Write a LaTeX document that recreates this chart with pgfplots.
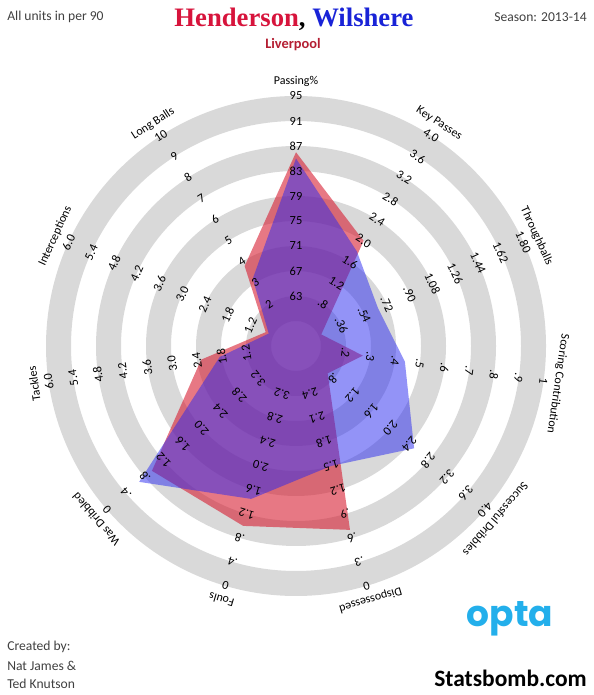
\documentclass[border=0pt]{standalone}
\usepackage{pgfplots}
\pgfplotsset{compat=1.18}
\usepackage{pgfplotstable}
\usepackage{fontspec}
\setmainfont{Carlito}
\newfontfamily\titlefont{Liberation Serif}
\newfontfamily\optafont{Poppins}
\definecolor{ringgray}{RGB}{217,217,217}
\definecolor{hencol}{RGB}{215,30,50}
\definecolor{wilcol}{RGB}{40,40,240}
\definecolor{titlered}{RGB}{215,20,60}
\definecolor{titleblue}{RGB}{25,35,215}
\definecolor{lfc}{RGB}{180,30,50}
\definecolor{txtgray}{RGB}{64,64,64}
\definecolor{optablue}{RGB}{35,175,235}

% ang = axis direction, c = value at centre, o = value at outer ring
\pgfplotstableread{
ang c o hen wil
90 55 95 86.0 85.0
57.2727 0 4.0 2.0 1.8
24.5455 0 1.8 0.20 0.65
-8.1818 0 1.0 0.27 0.44
-40.9091 0 4.0 0.67 2.5
-73.6364 3.0 0 0.70 1.5
-106.3636 4.0 0 1.0 1.45
-139.0909 4.0 0 0.95 0.68
-171.8182 0 6.0 2.3 1.85
-204.5455 0 6.0 0.8 0.72
-237.2727 0 10 3.8 3.2
90 55 95 86.0 85.0
}\radar

\begin{document}
\begin{tikzpicture}
\begin{axis}[
  x=18.75pt, y=18.75pt,
  xmin=-11.84, xmax=11.88, ymin=-13.96, ymax=13.84,
  hide axis, clip=false,
]
\fill[ringgray, even odd rule] (axis cs:0,0) circle[radius=187.5pt] circle[radius=168.75pt];
\fill[ringgray, even odd rule] (axis cs:0,0) circle[radius=150pt] circle[radius=131.25pt];
\fill[ringgray, even odd rule] (axis cs:0,0) circle[radius=112.5pt] circle[radius=93.75pt];
\fill[ringgray, even odd rule] (axis cs:0,0) circle[radius=75pt] circle[radius=56.25pt];
\fill[ringgray, even odd rule] (axis cs:0,0) circle[radius=37.5pt] circle[radius=18.75pt];
\addplot[draw=none, fill=hencol, fill opacity=0.6] table[
  x expr={(\thisrow{hen}-\thisrow{c})/(\thisrow{o}-\thisrow{c})*10*cos(\thisrow{ang})},
  y expr={(\thisrow{hen}-\thisrow{c})/(\thisrow{o}-\thisrow{c})*10*sin(\thisrow{ang})}]{\radar};
\addplot[draw=none, fill=wilcol, fill opacity=0.5] table[
  x expr={(\thisrow{wil}-\thisrow{c})/(\thisrow{o}-\thisrow{c})*10*cos(\thisrow{ang})},
  y expr={(\thisrow{wil}-\thisrow{c})/(\thisrow{o}-\thisrow{c})*10*sin(\thisrow{ang})}]{\radar};
\coordinate (O) at (axis cs:0,0);
\coordinate (SW) at (rel axis cs:0,0);
\coordinate (NE) at (rel axis cs:1,1);
\end{axis}

\begin{scope}[shift={(O)}, x=18.75pt, y=18.75pt]
\foreach \ang/\labs in {
  90/{63,67,71,75,79,83,87,91,95},
  57.2727/{.8,1.2,1.6,2.0,2.4,2.8,3.2,3.6,4.0},
  24.5455/{.36,.54,.72,.90,1.08,1.26,1.44,1.62,1.80},
  -8.1818/{.2,.3,.4,.5,.6,.7,.8,.9,1},
  -40.9091/{.8,1.2,1.6,2.0,2.4,2.8,3.2,3.6,4.0},
  -73.6364/{2.4,2.1,1.8,1.5,1.2,.9,.6,.3,0},
  -106.3636/{3.2,2.8,2.4,2.0,1.6,1.2,.8,.4,0},
  -139.0909/{3.2,2.8,2.4,2.0,1.6,1.2,.8,.4,0},
  -171.8182/{1.2,1.8,2.4,3.0,3.6,4.2,4.8,5.4,6.0},
  -204.5455/{1.2,1.8,2.4,3.0,3.6,4.2,4.8,5.4,6.0},
  -237.2727/{2,3,4,5,6,7,8,9,10}}{
  \foreach \lab [count=\k from 2] in \labs {
    \node[rotate=\ang-90, inner sep=0pt, font=\fontsize{9.3}{11}\selectfont] at (\ang:\k) {\lab};
  }
}
\foreach \ang/\nm in {
  90/Passing\%, 57.2727/Key Passes, 24.5455/Throughballs,
  -8.1818/Scoring Contribution, -40.9091/Successful Dribbles,
  -73.6364/Dispossessed, -106.3636/Fouls, -139.0909/Was Dribbled,
  -171.8182/Tackles, -204.5455/Interceptions, -237.2727/Long Balls}{
  \node[rotate=\ang-90, inner sep=0pt, font=\fontsize{9}{11}\selectfont] at (\ang:10.58) {\nm};
}
\end{scope}

\begin{scope}[shift={(O)}, x=0.75pt, y=-0.75pt]
\node[anchor=west, inner sep=0pt, text=txtgray, font=\fontsize{10.2}{12}\selectfont] at (-289,-329) {All units in per 90};
\node[anchor=east, inner sep=0pt, text=txtgray, font=\fontsize{10.2}{12}\selectfont] at (291,-329) {Season: 2013-14};
\node[inner sep=0pt, font=\titlefont\bfseries\fontsize{20}{24}\selectfont] at (-2,-327) {\textcolor{titlered}{Henderson}, \textcolor{titleblue}{Wilshere}};
\node[inner sep=0pt, text=lfc, font=\bfseries\fontsize{10.8}{12}\selectfont] at (-3,-301) {Liverpool};
\node[anchor=west, inner sep=0pt, text=txtgray, font=\fontsize{10.2}{12}\selectfont] at (-289,301) {Created by:};
\node[anchor=west, inner sep=0pt, text=txtgray, font=\fontsize{10.2}{12}\selectfont] at (-289,320) {Nat James \&};
\node[anchor=west, inner sep=0pt, text=txtgray, font=\fontsize{10.2}{12}\selectfont] at (-289,338) {Ted Knutson};
\node[anchor=east, inner sep=0pt, font=\bfseries\fontsize{17.6}{20}\selectfont] at (291,332) {Statsbomb.com};
\node[inner sep=0pt, text=optablue, font=\optafont\bfseries\fontsize{27}{30}\selectfont] at (214,273) {opta};
\end{scope}
\pgfresetboundingbox
\path (SW) rectangle (NE);
\end{tikzpicture}
\end{document}
